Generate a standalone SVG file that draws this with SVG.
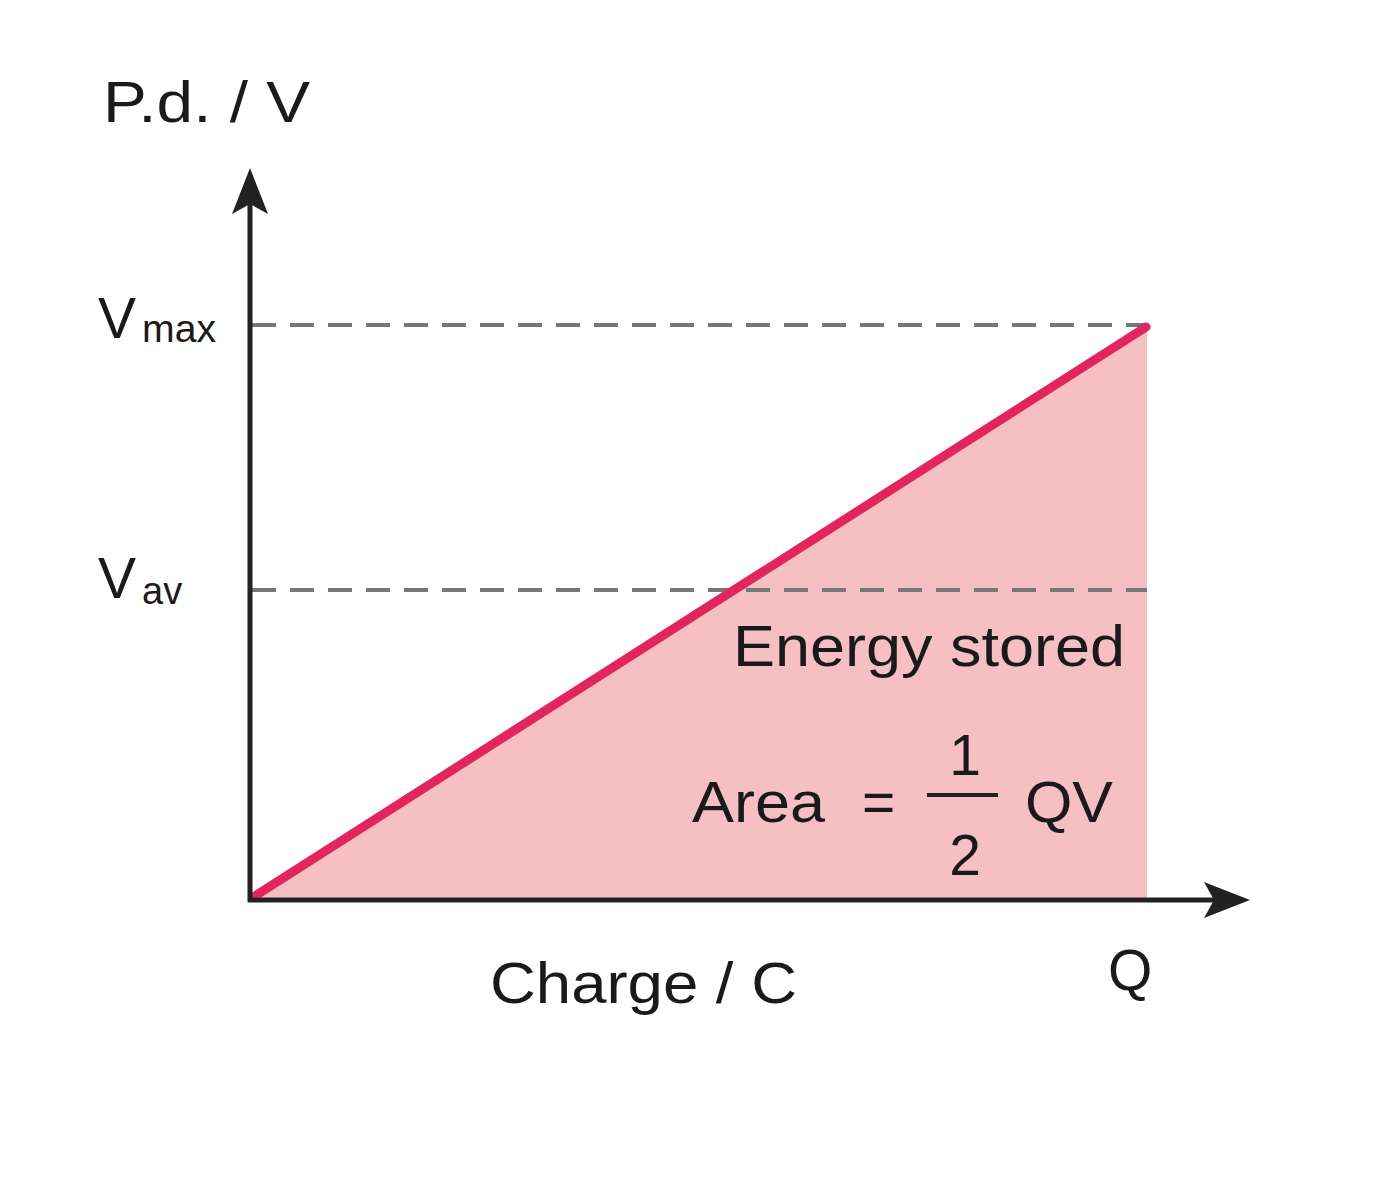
<svg xmlns="http://www.w3.org/2000/svg" width="1385" height="1200" viewBox="0 0 1385 1200">
<style>
text{font-family:"Liberation Sans",Arial,sans-serif;fill:#1a1a1a;font-size:57px}
.sub{font-size:38px}
.dash{stroke:#777;stroke-width:4;stroke-dasharray:24 14;fill:none}
.axis{stroke:#222;stroke-width:5;fill:none}
</style>
<rect width="1385" height="1200" fill="#fff"/>
<polygon points="252,900 1147,325 1147,900" fill="#f6bfc3"/>
<line class="dash" x1="252" y1="325" x2="1147" y2="325"/>
<line class="dash" x1="252" y1="590" x2="1147" y2="590"/>
<line x1="255" y1="896" x2="1146" y2="327" stroke="#e2265d" stroke-width="9" stroke-linecap="round"/>
<g id="axes">
<line class="axis" x1="250" y1="902" x2="250" y2="190"/>
<polygon points="250,168 232,214 250,204 268,214" fill="#222"/>
<line class="axis" x1="248" y1="900" x2="1225" y2="900"/>
<polygon points="1250,900 1204,882 1214,900 1204,918" fill="#222"/>
</g>
<text x="103" y="122" textLength="207" lengthAdjust="spacingAndGlyphs">P.d. / V</text>
<text x="98" y="338">V</text><text class="sub" x="142" y="342" textLength="74" lengthAdjust="spacingAndGlyphs">max</text>
<text x="98" y="598">V</text><text class="sub" x="142" y="604">av</text>
<text x="733" y="666" textLength="392" lengthAdjust="spacingAndGlyphs">Energy stored</text>
<text x="692" y="822" textLength="133" lengthAdjust="spacingAndGlyphs">Area</text>
<text x="862" y="822">=</text>
<line x1="927" y1="795" x2="998" y2="795" stroke="#222" stroke-width="4"/>
<text x="965" y="775" text-anchor="middle">1</text>
<text x="965" y="875" text-anchor="middle">2</text>
<text x="1025" y="822" textLength="88" lengthAdjust="spacingAndGlyphs">QV</text>
<text x="490" y="1003" textLength="307" lengthAdjust="spacingAndGlyphs">Charge / C</text>
<text x="1108" y="990">Q</text>
</svg>
